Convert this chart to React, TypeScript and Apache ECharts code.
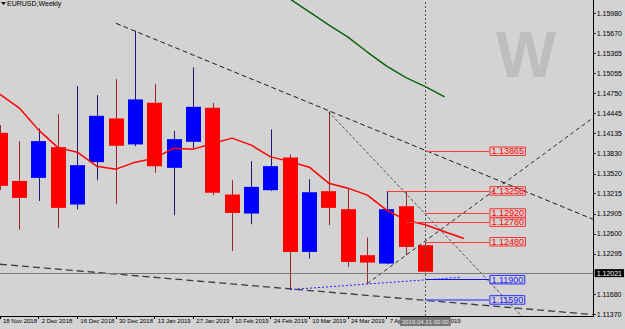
import React, { useEffect, useRef } from 'react';
import * as echarts from 'echarts';

// ---- data (EURUSD, weekly) ----
const xTickIdx = [0, 2, 4, 6, 8, 10, 12, 14, 16, 18, 20, 22];
const xTickLabels = ['18 Nov 2018', '2 Dec 2018', '16 Dec 2018', '30 Dec 2018', '13 Jan 2019', '27 Jan 2019',
  '10 Feb 2019', '24 Feb 2019', '10 Mar 2019', '24 Mar 2019', '7 Apr 2019', '21 Apr 2019'];
const yTickValues = [1.11370, 1.11680, 1.12295, 1.12600, 1.12905, 1.13215, 1.13520, 1.13830, 1.14135,
  1.14445, 1.14750, 1.15055, 1.15365, 1.15670, 1.15980];

const opens = [1.14147, 1.13411, 1.13457, 1.13928, 1.13050, 1.13698, 1.14367, 1.13969, 1.14606, 1.13611, 1.14009, 1.14530,
  1.13203, 1.12912, 1.13269, 1.13770, 1.12324, 1.13254, 1.12978, 1.12274, 1.12146, 1.13024, 1.12427];
const closes = [1.13335, 1.13151, 1.14020, 1.12998, 1.13652, 1.14407, 1.13948, 1.14658, 1.13637, 1.14050, 1.14545, 1.13228,
  1.12921, 1.13320, 1.13637, 1.12324, 1.13238, 1.12998, 1.12171, 1.12162, 1.12978, 1.12401, 1.12021];
const lows = [1.13269, 1.12667, 1.13105, 1.12692, 1.12974, 1.13422, 1.13055, 1.13943, 1.13534, 1.12886, 1.13912, 1.13193,
  1.12339, 1.12748, 1.13258, 1.11748, 1.12223, 1.12733, 1.12094, 1.11840, 1.12136, 1.12274, 1.12010];
const highs = [1.14265, 1.14020, 1.14214, 1.14433, 1.14862, 1.14724, 1.14969, 1.15709, 1.14893, 1.14177, 1.15148, 1.14606,
  1.13422, 1.13713, 1.14199, 1.13816, 1.13438, 1.14468, 1.13295, 1.12545, 1.13258, 1.13243, 1.12457];

const maRed = [1.14736, 1.14525, 1.14188, 1.13920, 1.13851, 1.13637, 1.13591, 1.13698, 1.13759, 1.13912, 1.13897, 1.13984,
  1.14066, 1.13958, 1.13779, 1.13706, 1.13621, 1.13376, 1.13300, 1.13193, 1.12963, 1.12810, 1.12741, 1.12634, 1.12529];
const maGreenStart = 14;
const maGreen = [1.16394, 1.16194, 1.15998, 1.15799, 1.15612, 1.15383, 1.15168, 1.14992, 1.14854, 1.14697];

const trendA = [[6, 1.15822], [30.71, 1.12820]];
const trendB = [[0, 1.12136], [30.71, 1.11365]];
const trendC = [[17, 1.14468], [27, 1.11339]];
const trendD = [[19, 1.11840], [30.71, 1.14384]];
const blueDotted = [[15, 1.11748], [23.8, 1.11935]];

const levelPrices = [1.13865, 1.13258, 1.12920, 1.12780, 1.12480, 1.11900, 1.11590];
const levelStarts = [22, 20, 22, 21, 22, 22, 22];
const lastPrice = 1.12021;
const cursorIdx = 22;
const cursorLabel = '2019.04.21 00:00';

const NARROW = '"Liberation Sans Narrow", "Liberation Sans", Arial, sans-serif';
const ARIAL = '"Liberation Sans", Arial, sans-serif';
const LABEL_END = 25.29;

export default function App() {
  const ref = useRef<HTMLDivElement>(null);
  useEffect(() => {
    if (!ref.current) return;
    const chart = echarts.init(ref.current, undefined, { renderer: 'svg' });

    const candleData = opens.map((o, i) => [i, o, closes[i], lows[i], highs[i]]);

    const levelLines = levelPrices.map((p, k) => {
      const below = p < lastPrice;
      const col = below ? '#2a2aff' : '#ff3030';
      return [
        { coord: [levelStarts[k], p], lineStyle: { color: below ? (k === 6 ? '#5a5aff' : '#1010ff') : '#ff3a3a', width: k === 6 ? 1.6 : 1, type: 'solid' } },
        {
          coord: [LABEL_END, p],
          label: {
            show: true, position: 'end', distance: 1,
            formatter: p.toFixed(5),
            color: below ? '#1c1cff' : '#ff0000',
            fontSize: 9, fontFamily: ARIAL, lineHeight: 8,
            borderColor: col, borderWidth: 1, padding: [0.5, 1.5, 0, 1.5],
          },
        },
      ];
    });

    const dashLine = (name: string, pts: number[][], color: string, width: number, type: any) => ({
      name, type: 'line', data: pts, symbol: 'none', silent: true, clip: true,
      lineStyle: { color, width, type }, z: 3,
    });

    const option: any = {
      animation: false,
      backgroundColor: '#d3d3d3',
      grid: { left: 0, right: 28, top: 0, bottom: 13, containLabel: false },
      xAxis: {
        type: 'value', min: 0, max: 30.71, interval: 2,
        axisLine: { show: true, onZero: false, lineStyle: { color: '#000', width: 1 } },
        axisTick: { show: true, length: 3, customValues: xTickIdx, lineStyle: { color: '#000' } },
        axisLabel: {
          customValues: xTickIdx,
          formatter: (v: number) => { const k = xTickIdx.indexOf(Math.round(v)); return k >= 0 ? xTickLabels[k] : ''; },
          align: 'left', padding: [0, 0, 0, 3], margin: 2, fontSize: 6, fontFamily: NARROW, color: '#000',
        },
        splitLine: { show: false },
      },
      yAxis: {
        type: 'value', position: 'right', min: 1.11344, max: 1.16179, scale: true,
        axisLine: { show: true, onZero: false, lineStyle: { color: '#000', width: 1 } },
        axisTick: { show: true, length: 2, customValues: yTickValues, lineStyle: { color: '#000' } },
        axisLabel: {
          customValues: yTickValues,
          formatter: (v: number) => v.toFixed(5), margin: 3, fontSize: 7, fontFamily: NARROW, color: '#000',
        },
        splitLine: { show: false },
      },
      graphic: [
        { type: 'text', x: 526, y: 55, z: 0, silent: true,
          style: { text: 'W', fontSize: 64, fontWeight: 'bold', fontFamily: ARIAL, fill: '#bebebe', align: 'center', verticalAlign: 'middle' } },
        { type: 'polygon', shape: { points: [[1, 2], [6, 2], [3.5, 5]] }, style: { fill: '#000' } },
        { type: 'text', x: 7, y: 0, style: { text: 'EURUSD,Weekly', fontSize: 7, fontFamily: NARROW, fill: '#000', verticalAlign: 'top' } },
      ],
      series: [
        {
          name: 'candles', type: 'custom', data: candleData, encode: { x: 0, y: [1, 2, 3, 4] }, z: 2, clip: true,
          renderItem: (params: any, api: any) => {
            const i = api.value(0);
            const o = api.value(1), c = api.value(2), l = api.value(3), h = api.value(4);
            const pO = api.coord([i, o]);
            const pC = api.coord([i, c]);
            const pL = api.coord([i, l]);
            const pH = api.coord([i, h]);
            const w = api.size([1, 0])[0] * 0.77;
            const bull = c >= o;
            const x = Math.round(pO[0]) + 0.5;
            const top = Math.min(pO[1], pC[1]);
            const bot = Math.max(pO[1], pC[1]);
            return {
              type: 'group',
              children: [
                { type: 'line', shape: { x1: x, y1: pH[1], x2: x, y2: pL[1] },
                  style: { stroke: bull ? '#1a1a72' : '#962a2a', lineWidth: 1 } },
                { type: 'rect', shape: { x: Math.round(pO[0] - w / 2), y: top, width: Math.round(w), height: Math.max(bot - top, 1) },
                  style: { fill: bull ? '#0000ff' : '#ff0000' } },
              ],
            };
          },
        },
        dashLine('trendB', trendB, '#3c3c3c', 1.3, [7, 4]),
        dashLine('trendA', trendA, '#1e1e1e', 1, [5, 3]),
        dashLine('trendC', trendC, '#2e2e2e', 0.8, [3, 2]),
        dashLine('trendD', trendD, '#2a2a2a', 1, [4, 3]),
        dashLine('blueDotted', blueDotted, '#2020ff', 1, [2, 2]),
        {
          name: 'maGreen', type: 'line', symbol: 'none', silent: true, clip: true, z: 4,
          data: maGreen.map((v, k) => [maGreenStart + k, v]),
          lineStyle: { color: '#0a640a', width: 1.5 },
        },
        {
          name: 'maRed', type: 'line', symbol: 'none', silent: true, clip: true, z: 4,
          data: maRed.map((v, k) => [k, v]),
          lineStyle: { color: '#ff0000', width: 1.5 },
          markLine: {
            silent: true, symbol: ['none', 'none'], animation: false,
            data: [
              ...levelLines,
              {
                yAxis: lastPrice,
                lineStyle: { color: '#7a7a7a', width: 1, type: 'solid' },
                label: { show: true, position: 'end', distance: 1, formatter: lastPrice.toFixed(5),
                  backgroundColor: '#000', color: '#fff', fontSize: 7, fontFamily: NARROW, padding: [1, 2, 0, 2] },
              },
              {
                xAxis: cursorIdx,
                lineStyle: { color: '#555', width: 1, type: [2, 2] },
                label: { show: true, position: 'start', distance: 1, formatter: cursorLabel,
                  backgroundColor: '#767676', color: '#e6e6e6', fontSize: 6, fontFamily: NARROW, padding: [2, 2, 1, 2] },
              },
            ],
          },
        },
      ],
    };
    chart.setOption(option);
    return () => chart.dispose();
  }, []);
  return <div ref={ref} style={{ position: 'fixed', left: 0, top: 0, width: 625, height: 329 }} />;
}
